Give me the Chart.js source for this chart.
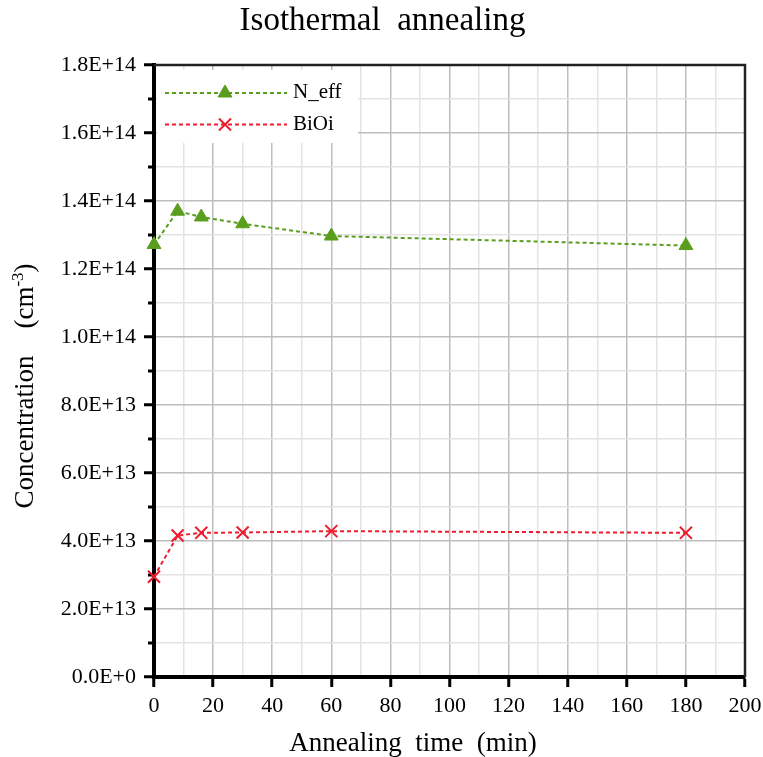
<!doctype html>
<html lang="en">
<head>
<meta charset="utf-8">
<title>Isothermal annealing</title>
<script src="https://cdn.jsdelivr.net/npm/chart.js@4.4.1/dist/chart.umd.min.js"></script>
<style>
  html, body { margin: 0; padding: 0; background: #fff; }
</style>
</head>
<body>
<canvas id="myChart" width="763" height="757"></canvas>
<script>
// values
var times = [0, 8, 16, 30, 60, 180];
var nEff = [1.272e14, 1.370e14, 1.353e14, 1.333e14, 1.297e14, 1.269e14];
var biOi = [2.95e13, 4.16e13, 4.24e13, 4.25e13, 4.29e13, 4.24e13];
var xTickLabels = ['0', '20', '40', '60', '80', '100', '120', '140', '160', '180', '200'];
var yTickLabels = ['0.0E+0', '2.0E+13', '4.0E+13', '6.0E+13', '8.0E+13', '1.0E+14',
                   '1.2E+14', '1.4E+14', '1.6E+14', '1.8E+14'];

var SERIF = '"Liberation Serif", "Times New Roman", serif';
Chart.defaults.font.family = SERIF;
Chart.defaults.color = '#000';

function pts(ys) {
  var out = [];
  for (var i = 0; i < times.length; i++) out.push({x: times[i], y: ys[i]});
  return out;
}

function drawMarker(ctx, style, x, y, r, color, lw) {
  ctx.save();
  ctx.fillStyle = color;
  ctx.strokeStyle = color;
  ctx.lineWidth = lw;
  ctx.setLineDash([]);
  ctx.beginPath();
  if (style === 'triangle') {
    ctx.moveTo(x, y - r);
    ctx.lineTo(x + r * 0.866, y + r * 0.5);
    ctx.lineTo(x - r * 0.866, y + r * 0.5);
    ctx.closePath();
    ctx.fill();
    ctx.stroke();
  } else {
    var d = r * 0.7071;
    ctx.moveTo(x - d, y - d); ctx.lineTo(x + d, y + d);
    ctx.moveTo(x + d, y - d); ctx.lineTo(x - d, y + d);
    ctx.stroke();
  }
  ctx.restore();
}

// top and right frame lines + short minor ticks on y
var framePlugin = {
  id: 'frame',
  beforeDatasetsDraw: function (chart) {
    var a = chart.chartArea, ctx = chart.ctx, ys = chart.scales.y;
    ctx.save();
    ctx.strokeStyle = '#222';
    ctx.lineWidth = 2.5;
    ctx.beginPath();
    ctx.moveTo(a.left, a.top);
    ctx.lineTo(a.right, a.top);
    ctx.lineTo(a.right, a.bottom);
    ctx.stroke();
    ctx.strokeStyle = '#000';
    ctx.lineWidth = 3;
    ys.ticks.forEach(function (t, i) {
      if (i % 2 === 1) {
        var py = ys.getPixelForValue(t.value);
        ctx.beginPath();
        ctx.moveTo(a.left - 6, py);
        ctx.lineTo(a.left, py);
        ctx.stroke();
      }
    });
    ctx.restore();
  }
};

// legend box in the upper left corner
var legendPlugin = {
  id: 'boxLegend',
  afterDatasetsDraw: function (chart) {
    var ctx = chart.ctx;
    ctx.save();
    ctx.fillStyle = '#fff';
    ctx.fillRect(157, 70, 201, 73);
    chart.data.datasets.forEach(function (ds, i) {
      var y = 93 + i * 31.5;
      ctx.strokeStyle = ds.borderColor;
      ctx.lineWidth = ds.borderWidth;
      ctx.setLineDash(ds.borderDash);
      ctx.beginPath();
      ctx.moveTo(165, y);
      ctx.lineTo(287, y);
      ctx.stroke();
      drawMarker(ctx, ds.pointStyle, 225, y, ds.pointRadius, ds.borderColor, ds.pointBorderWidth);
      ctx.fillStyle = '#000';
      ctx.font = '21px ' + SERIF;
      ctx.textBaseline = 'alphabetic';
      ctx.fillText(ds.label, 293, y + 5);
    });
    ctx.restore();
  }
};

// axis titles (the y one has a superscript)
var axisTitlePlugin = {
  id: 'axisTitles',
  afterDraw: function (chart) {
    var ctx = chart.ctx;
    var big = '27px ' + SERIF, small = '17px ' + SERIF;
    ctx.save();
    ctx.fillStyle = '#000';
    ctx.textBaseline = 'alphabetic';
    ctx.font = '27px ' + SERIF;
    ctx.textAlign = 'center';
    ctx.fillText('Annealing  time  (min)', 413, 751);
    ctx.textAlign = 'left';

    var a = 'Concentration', g = '    ', b = '(cm', s = '-3', c = ')';
    ctx.font = big;
    var wa = ctx.measureText(a).width, wg = ctx.measureText(g).width,
        wb = ctx.measureText(b).width, wc = ctx.measureText(c).width;
    ctx.font = small;
    var ws = ctx.measureText(s).width;
    var total = wa + wg + wb + ws + wc;
    ctx.translate(33, 386);
    ctx.rotate(-Math.PI / 2);
    var x = -total / 2;
    ctx.font = big;
    ctx.fillText(a, x, 0); x += wa + wg;
    ctx.fillText(b, x, 0); x += wb;
    ctx.font = small;
    ctx.fillText(s, x, -10); x += ws;
    ctx.font = big;
    ctx.fillText(c, x, 0);
    ctx.restore();
  }
};

var myChart = new Chart(document.getElementById('myChart').getContext('2d'), {
  type: 'line',
  data: {
    datasets: [
      {
        label: 'N_eff',
        data: pts(nEff),
        borderColor: '#5a9e1f',
        backgroundColor: '#5a9e1f',
        borderWidth: 2,
        borderDash: [4, 3],
        pointStyle: 'triangle',
        pointRadius: 8,
        pointBorderWidth: 1,
        pointBackgroundColor: '#5a9e1f',
        clip: false
      },
      {
        label: 'BiOi',
        data: pts(biOi),
        borderColor: '#ee1c2e',
        backgroundColor: '#ee1c2e',
        borderWidth: 2,
        borderDash: [4, 3],
        pointStyle: 'crossRot',
        pointRadius: 8.5,
        pointBorderWidth: 2,
        clip: false
      }
    ]
  },
  options: {
    responsive: false,
    animation: false,
    devicePixelRatio: 1,
    layout: { padding: { left: 20, right: 18, top: 0, bottom: 0 } },
    plugins: {
      legend: { display: false },
      tooltip: { enabled: false },
      title: {
        display: true,
        text: 'Isothermal  annealing',
        color: '#000',
        font: { size: 33, weight: 'normal', family: SERIF },
        padding: { top: 2, bottom: 23.4 }
      }
    },
    scales: {
      x: {
        type: 'linear',
        min: 0,
        max: 200,
        afterFit: function (s) { s.height = 80; s.paddingLeft = 0; s.paddingRight = 0; },
        border: { color: '#000', width: 4 },
        grid: {
          color: function (c) { return c.tick.value % 20 === 0 ? '#bdbdbd' : '#e3e3e3'; },
          lineWidth: 1.5,
          tickLength: 10,
          tickWidth: 3,
          tickColor: function (c) { return c.tick.value % 20 === 0 ? '#000' : 'rgba(0,0,0,0)'; }
        },
        ticks: {
          stepSize: 10,
          autoSkip: false,
          maxRotation: 0,
          padding: 6,
          color: '#000',
          font: { size: 22 },
          callback: function (v) { return v % 20 === 0 ? xTickLabels[v / 20] : ''; }
        }
      },
      y: {
        min: 0,
        max: 1.8e14,
        afterFit: function (s) { s.width = 134; s.paddingTop = 0; s.paddingBottom = 0; },
        border: { color: '#000', width: 4 },
        grid: {
          color: function (c) { return c.index % 2 === 0 ? '#bdbdbd' : '#e3e3e3'; },
          lineWidth: 1.5,
          tickLength: 10,
          tickWidth: 3,
          tickColor: function (c) { return c.index % 2 === 0 ? '#000' : 'rgba(0,0,0,0)'; }
        },
        ticks: {
          stepSize: 1e13,
          autoSkip: false,
          padding: 8,
          color: '#000',
          font: { size: 22 },
          callback: function (v, i) { return i % 2 === 0 ? yTickLabels[i / 2] : ''; }
        }
      }
    }
  },
  plugins: [framePlugin, legendPlugin, axisTitlePlugin]
});
</script>
</body>
</html>
